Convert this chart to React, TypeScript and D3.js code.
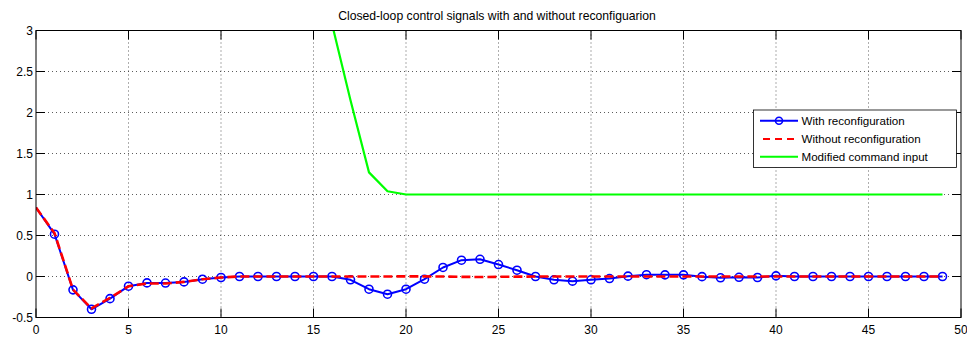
import React from "react";
import * as d3 from "d3";

const titleText = "Closed-loop control signals with and without reconfiguarion";
const xTicks = [0, 5, 10, 15, 20, 25, 30, 35, 40, 45, 50];
const yTicks = [-0.5, 0, 0.5, 1, 1.5, 2, 2.5, 3];
const steps = d3.range(0, 50);

const withReconf = [
  0.84, 0.516, -0.163, -0.4, -0.27, -0.118, -0.078, -0.08, -0.066, -0.033,
  -0.012, 0.0, 0.0, 0.0, 0.0, 0.0, 0.0, -0.04, -0.155, -0.216,
  -0.155, -0.033, 0.11, 0.199, 0.21, 0.146, 0.077, 0.0, -0.04, -0.057,
  -0.04, -0.025, 0.004, 0.022, 0.02, 0.02, -0.002, -0.016, -0.01, -0.012,
  0.008, 0.0, 0.0, 0.0, 0.0, 0.0, 0.0, 0.0, 0.0, 0.0,
];
const withoutReconf = [
  0.84, 0.53, -0.16, -0.39, -0.26, -0.12, -0.085, -0.085, -0.066, -0.033,
  -0.012, 0.0, 0.0, 0.0, 0.0, 0.0, 0.0, 0.0, 0.0, 0.0,
  0.002, 0.001, 0.0, -0.004, -0.006, -0.004, -0.002, 0.0, 0.0, 0.0,
  0.0, 0.0, 0.0, 0.0, 0.0, 0.0, 0.0, 0.0, 0.0, 0.0,
  0.0, 0.0, 0.0, 0.0, 0.0, 0.0, 0.0, 0.0, 0.0, 0.0,
];
const cmdSteps = d3.range(16, 50);
const commandInput = [
  3.08, 2.15, 1.27, 1.04, 1.0, 1.0, 1.0, 1.0, 1.0, 1.0,
  1.0, 1.0, 1.0, 1.0, 1.0, 1.0, 1.0, 1.0, 1.0, 1.0,
  1.0, 1.0, 1.0, 1.0, 1.0, 1.0, 1.0, 1.0, 1.0, 1.0,
  1.0, 1.0, 1.0, 1.0,
];
const legendLabels = ["With reconfiguration", "Without reconfiguration", "Modified command input"];

const W = 967, H = 337;
const L = 36, R = 961, T = 30.5, B = 317.5;
const font = "'Liberation Sans', Arial, sans-serif";

export default function App() {
  const x = d3.scaleLinear().domain([0, 50]).range([L, R]);
  const y = d3.scaleLinear().domain([-0.5, 3]).range([B, T]);
  const line = d3.line<[number, number]>().x(d => x(d[0])).y(d => y(d[1]));
  const blue = steps.map((s, i) => [s, withReconf[i]] as [number, number]);
  const red = steps.map((s, i) => [s, withoutReconf[i]] as [number, number]);
  const green = cmdSteps.map((s, i) => [s, commandInput[i]] as [number, number]);
  const tickLen = 9;
  const lgX = 753.5, lgY = 110, lgW = 203, lgH = 57.5;
  const rowY = [120.7, 139, 156.7];
  return (
    <svg width={W} height={H} style={{ position: "absolute", left: 0, top: 0, background: "#fff" }}>
      <defs>
        <clipPath id="plotclip">
          <rect x={L} y={T} width={R - L} height={B - T} />
        </clipPath>
      </defs>
      <rect x={0} y={0} width={W} height={H} fill="#fff" />
      <text x={497} y={20} textAnchor="middle" fontFamily={font} fontSize={12.2} fill="#000">{titleText}</text>
      {/* grid */}
      <g stroke="#000" strokeWidth={0.8} strokeDasharray="1,3" opacity={0.8}>
        {xTicks.slice(1, -1).map(t => (
          <line key={"gx" + t} x1={x(t)} x2={x(t)} y1={T} y2={B} />
        ))}
        {yTicks.slice(1, -1).map(t => (
          <line key={"gy" + t} x1={L} x2={R} y1={y(t)} y2={y(t)} />
        ))}
      </g>
      <g clipPath="url(#plotclip)">
        <path d={line(blue) || ""} fill="none" stroke="#0000ff" strokeWidth={2} strokeLinejoin="round" />
        {blue.slice(1).map(d => (
          <circle key={"c" + d[0]} cx={x(d[0])} cy={y(d[1])} r={4} fill="none" stroke="#0000ff" strokeWidth={1.6} />
        ))}
        <path d={line(red) || ""} fill="none" stroke="#ff0000" strokeWidth={2.6} strokeDasharray="9,4" />
        <path d={line(green) || ""} fill="none" stroke="#00ff00" strokeWidth={2.2} strokeLinejoin="round" />
      </g>
      {/* axes box */}
      <rect x={L} y={T} width={R - L} height={B - T} fill="none" stroke="#000" strokeWidth={1} />
      <g stroke="#000" strokeWidth={1}>
        {xTicks.map(t => (
          <g key={"tx" + t}>
            <line x1={x(t)} x2={x(t)} y1={B} y2={B - tickLen} />
            <line x1={x(t)} x2={x(t)} y1={T} y2={T + tickLen} />
          </g>
        ))}
        {yTicks.map(t => (
          <g key={"ty" + t}>
            <line x1={L} x2={L + tickLen} y1={y(t)} y2={y(t)} />
            <line x1={R} x2={R - tickLen} y1={y(t)} y2={y(t)} />
          </g>
        ))}
      </g>
      <g fontFamily={font} fontSize={12} fill="#000">
        {xTicks.map(t => (
          <text key={"lx" + t} x={x(t)} y={B + 16} textAnchor="middle">{t}</text>
        ))}
        {yTicks.map(t => (
          <text key={"ly" + t} x={L - 3} y={y(t) + 4.5} textAnchor="end">{t}</text>
        ))}
      </g>
      {/* legend */}
      <rect x={lgX} y={lgY} width={lgW} height={lgH} fill="#fff" stroke="#000" strokeWidth={0.8} />
      <line x1={760} x2={798} y1={rowY[0]} y2={rowY[0]} stroke="#0000ff" strokeWidth={2} />
      <circle cx={779} cy={rowY[0]} r={3.5} fill="none" stroke="#0000ff" strokeWidth={1.6} />
      <line x1={763} x2={798} y1={rowY[1]} y2={rowY[1]} stroke="#ff0000" strokeWidth={2} strokeDasharray="7,5" />
      <line x1={760} x2={798} y1={rowY[2]} y2={rowY[2]} stroke="#00ff00" strokeWidth={2} />
      <g fontFamily={font} fontSize={11.6} fill="#000">
        {legendLabels.map((s, i) => (
          <text key={s} x={801.5} y={rowY[i] + 4.2}>{s}</text>
        ))}
      </g>
    </svg>
  );
}
